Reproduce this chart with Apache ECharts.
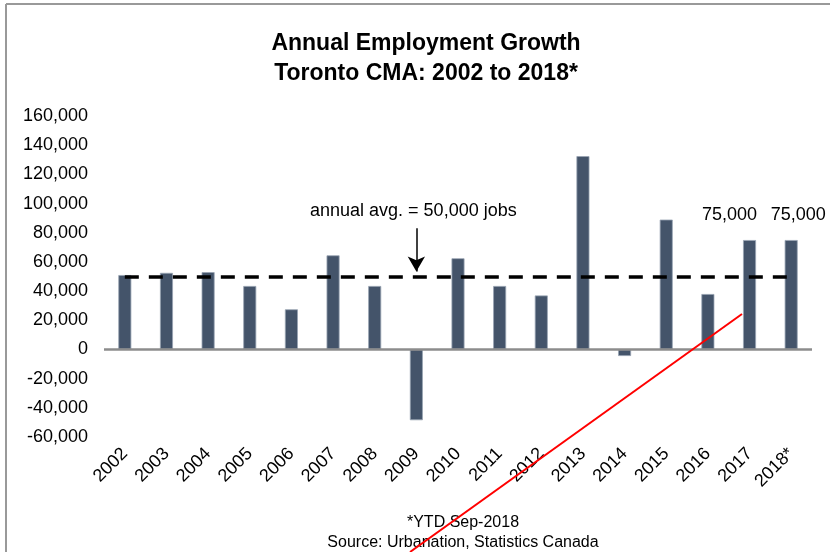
<!DOCTYPE html>
<html>
<head>
<meta charset="utf-8">
<script src="https://cdn.jsdelivr.net/npm/echarts@6/dist/echarts.min.js"></script>
<style>
  html, body { margin: 0; padding: 0; background: #fff; }
  #chart { width: 830px; height: 552px; }
</style>
</head>
<body>
<div id="chart"></div>
<script>
// Annual employment change, Toronto CMA
const years = ['2002', '2003', '2004', '2005', '2006', '2007', '2008', '2009', '2010',
               '2011', '2012', '2013', '2014', '2015', '2016', '2017', '2018*'];
const jobsAdded = [51000, 52500, 53000, 43500, 27500, 64500, 43500, -48500, 62500,
                   43500, 37000, 132500, -4500, 89000, 38000, 75000, 75000];
const labelledYears = ['2017', '2018*'];
const annualAverage = 50000;
const yTicks = [-60000, -40000, -20000, 0, 20000, 40000, 60000, 80000, 100000, 120000, 140000, 160000];

const FONT = '"Liberation Sans", Arial, sans-serif';
const fmt = v => v.toLocaleString('en-US');

const labelOffsets = { '2017': [-20, -11], '2018*': [7, -11] };
const barData = jobsAdded.map((v, i) => {
  const y = years[i];
  if (labelledYears.indexOf(y) < 0) return v;
  return {
    value: v,
    label: {
      show: true, position: 'top', distance: 5, offset: labelOffsets[y],
      formatter: p => fmt(p.value), fontSize: 18, color: '#000', fontFamily: FONT
    }
  };
});

const chart = echarts.init(document.getElementById('chart'));
chart.setOption({
  animation: false,
  backgroundColor: '#fff',
  textStyle: { fontFamily: FONT },
  title: [
    {
      text: 'Annual Employment Growth\nToronto CMA: 2002 to 2018*',
      left: 421, top: 24, textAlign: 'center',
      textStyle: { fontFamily: FONT, fontWeight: 'bold', fontSize: 23, lineHeight: 30, color: '#000' }
    },
    {
      text: '*YTD Sep-2018\nSource: Urbanation, Statistics Canada',
      left: 458, top: 508, textAlign: 'center',
      textStyle: { fontFamily: FONT, fontWeight: 'normal', fontSize: 16, lineHeight: 20, color: '#000' }
    }
  ],
  grid: { left: 104, right: 18, top: 116, bottom: 115, containLabel: false },
  xAxis: {
    type: 'category',
    data: years,
    axisLine: { show: false, onZero: false },
    axisTick: { show: false },
    axisLabel: { rotate: 45, margin: 14, fontSize: 18, color: '#000', fontFamily: FONT, interval: 0 }
  },
  yAxis: {
    type: 'value',
    min: yTicks[0], max: yTicks[yTicks.length - 1], interval: 20000,
    splitLine: { show: false },
    axisLine: { show: false },
    axisTick: { show: false },
    axisLabel: { margin: 16, fontSize: 18, color: '#000', fontFamily: FONT, formatter: v => fmt(v) }
  },
  series: [{
    type: 'bar',
    data: barData,
    barWidth: 13,
    itemStyle: { color: '#44546a', borderColor: '#98a3b3', borderWidth: 0.8 },
    markLine: {
      silent: true,
      symbol: 'none',
      label: { show: false },
      data: [
        // zero baseline across the plot
        [{ xAxis: 0, yAxis: 0, x: 104, lineStyle: { color: '#8c8c8c', width: 2.5, type: 'solid' } },
         { x: 812, yAxis: 0 }],
        // average line
        [{ xAxis: years[0], yAxis: annualAverage, lineStyle: { color: '#000', width: 3.5, type: [14, 10] } },
         { xAxis: years[years.length - 1], yAxis: annualAverage }],
        // arrow pointing at the average
        [{ xAxis: '2009', yAxis: 83000, symbol: 'none', lineStyle: { color: '#000', width: 1.5, type: 'solid' } },
         { xAxis: '2009', yAxis: 53500, symbol: 'arrow', symbolSize: [13, 15] }]
      ]
    },
    markPoint: {
      silent: true,
      symbol: 'circle', symbolSize: 0,
      data: [{
        coord: ['2009', 95000],
        label: {
          show: true, position: 'inside', offset: [-3, 0],
          formatter: 'annual avg. = ' + fmt(annualAverage) + ' jobs',
          fontSize: 18, color: '#000', fontFamily: FONT
        }
      }]
    }
  }],
  graphic: [
    // frame edges
    { type: 'line', shape: { x1: 6, y1: 4, x2: 830, y2: 4 }, style: { stroke: '#999', lineWidth: 2 } },
    { type: 'line', shape: { x1: 6, y1: 4, x2: 6, y2: 552 }, style: { stroke: '#999', lineWidth: 2 } },
    // red pen stroke across the lower right
    { type: 'line', z: 100, shape: { x1: 742, y1: 314, x2: 410, y2: 552 }, style: { stroke: '#ff0000', lineWidth: 2 } }
  ]
});
</script>
</body>
</html>
